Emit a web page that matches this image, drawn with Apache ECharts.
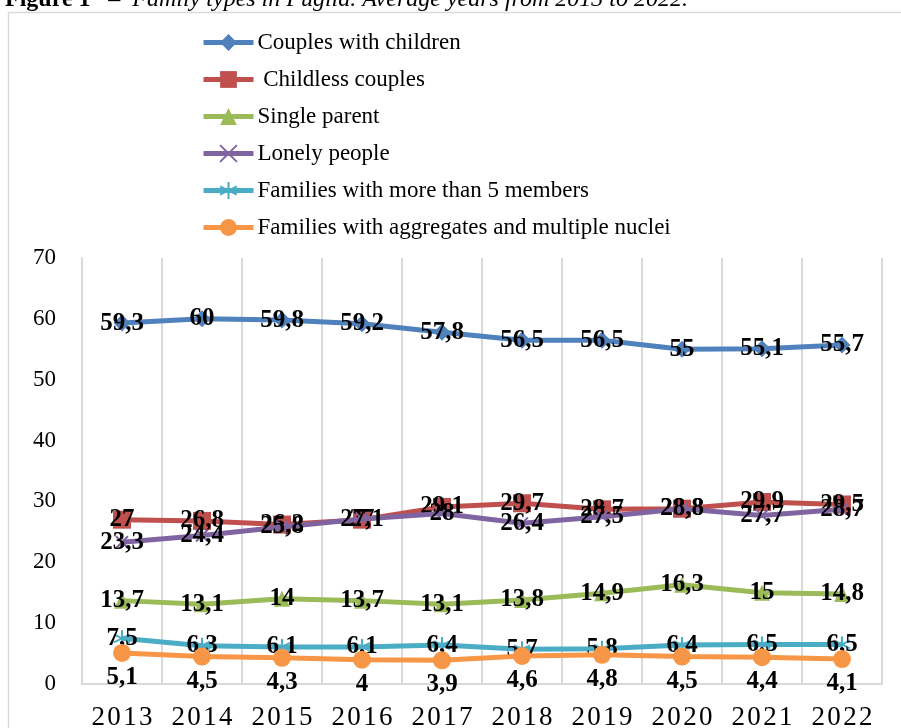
<!DOCTYPE html>
<html>
<head>
<meta charset="utf-8">
<script src="https://cdn.jsdelivr.net/npm/echarts@6/dist/echarts.min.js"></script>
<style>
  html, body { margin: 0; padding: 0; background: #fff; }
  #chart { width: 901px; height: 728px; }
</style>
</head>
<body>
<div id="chart"></div>
<script>
  const years = ['2013', '2014', '2015', '2016', '2017', '2018', '2019', '2020', '2021', '2022']
  const yTicks = [0, 10, 20, 30, 40, 50, 60, 70]

  const seriesNames = [
    'Couples with children',
    ' Childless couples',
    'Single parent',
    'Lonely people',
    'Families with more than 5 members',
    'Families with aggregates and multiple nuclei'
  ]
  const couplesWithChildren = [59.3, 60, 59.8, 59.2, 57.8, 56.5, 56.5, 55, 55.1, 55.7]
  const childlessCouples = [27, 26.8, 26.2, 27, 29.1, 29.7, 28.7, 28.8, 29.9, 29.5]
  const singleParent = [13.7, 13.1, 14, 13.7, 13.1, 13.8, 14.9, 16.3, 15, 14.8]
  const lonelyPeople = [23.3, 24.4, 25.8, 27.1, 28, 26.4, 27.5, 28.8, 27.7, 28.7]
  const moreThan5 = [7.5, 6.3, 6.1, 6.1, 6.4, 5.7, 5.8, 6.4, 6.5, 6.5]
  const aggregates = [5.1, 4.5, 4.3, 4, 3.9, 4.6, 4.8, 4.5, 4.4, 4.1]

  const colors = ['#4F81BD', '#C0504D', '#9BBB59', '#8064A2', '#4BACC6', '#F79646']
  const serif = '"Liberation Serif", "DejaVu Serif", serif'

  const crossPath = 'path://M0,0L10,10M10,0L0,10'
  const starPath = 'path://M5,0L5,10M0,2.5L10,7.5M0,7.5L10,2.5'

  function mkSeries(i, data, symbol, size, pos, extra) {
    const s = {
      name: seriesNames[i],
      type: 'line',
      data: data,
      symbol: symbol,
      symbolSize: size,
      showAllSymbol: true,
      lineStyle: { width: 5, color: colors[i] },
      itemStyle: { color: colors[i] },
      label: {
        show: true,
        position: pos,
        distance: 3,
        color: '#000',
        fontFamily: serif,
        fontWeight: 'bold',
        fontSize: 25,
        formatter: p => String(p.value).replace('.', ',')
      },
      z: 2 + i
    }
    return Object.assign(s, extra || {})
  }

  // x labels are spaced out in the original figure
  const spaced = v => v.split('').join('\u200A')

  const chart = echarts.init(document.getElementById('chart'))
  chart.setOption({
    animation: false,
    color: colors,
    title: {
      text: '{b|Figure 1}    {i|–  Family types in Puglia. Average years from 2013 to 2022.}',
      left: 0,
      top: -17,
      textStyle: {
        fontSize: 16,
        rich: {
          b: { fontFamily: serif, fontWeight: 'bold', fontStyle: 'normal', fontSize: 24, color: '#000' },
          i: { fontFamily: serif, fontWeight: 'normal', fontStyle: 'italic', fontSize: 24, color: '#000' }
        }
      }
    },
    graphic: [{
      type: 'rect',
      shape: { x: 8.5, y: 12.5, width: 920, height: 740 },
      style: { fill: 'none', stroke: '#d9d9d9', lineWidth: 1.5 },
      silent: true
    }],
    legend: {
      orient: 'vertical',
      left: 196,
      top: 26,
      itemGap: 14,
      itemWidth: 50,
      itemHeight: 21,
      lineStyle: { width: 5 },
      textStyle: { fontFamily: serif, fontSize: 23, color: '#000', lineHeight: 23, padding: [0, 0, 0, -1] },
      data: seriesNames
    },
    grid: { left: 82, right: 19, top: 258, bottom: 44, outerBoundsMode: 'none', containLabel: false },
    xAxis: {
      type: 'category',
      data: years,
      boundaryGap: true,
      axisTick: { show: false, interval: 0 },
      axisLine: { lineStyle: { color: '#d9d9d9', width: 2 } },
      axisLabel: { interval: 0, hideOverlap: false, fontFamily: serif, fontSize: 27, color: '#000', margin: 20, formatter: spaced },
      splitLine: { show: true, interval: 0, lineStyle: { color: '#d9d9d9', width: 2 } }
    },
    yAxis: {
      type: 'value',
      min: yTicks[0],
      max: yTicks[yTicks.length - 1],
      interval: 10,
      axisLine: { show: true, lineStyle: { color: '#d9d9d9', width: 2 } },
      axisTick: { show: false },
      splitLine: { show: false },
      axisLabel: { fontFamily: serif, fontSize: 23, color: '#000', margin: 26 }
    },
    series: [
      mkSeries(0, couplesWithChildren, 'diamond', 17, 'inside'),
      mkSeries(1, childlessCouples, 'rect', 18, 'inside'),
      mkSeries(2, singleParent, 'triangle', 16, 'inside'),
      mkSeries(3, lonelyPeople, crossPath, 12, 'inside', {
        itemStyle: { color: 'none', borderColor: colors[3], borderWidth: 2 }
      }),
      mkSeries(4, moreThan5, starPath, 16, 'inside', {
        itemStyle: { color: 'none', borderColor: colors[4], borderWidth: 2 }
      }),
      mkSeries(5, aggregates, 'circle', 18, 'bottom')
    ]
  })
</script>
</body>
</html>
